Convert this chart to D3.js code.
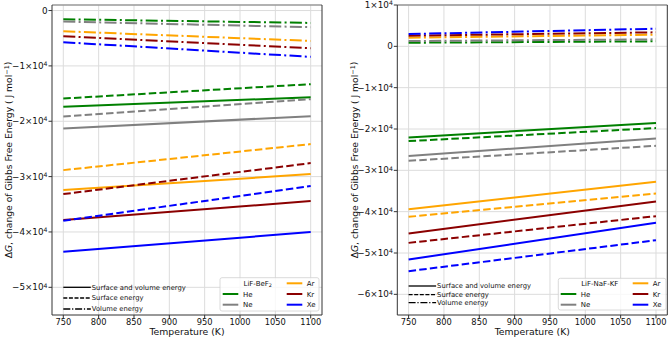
<!DOCTYPE html>
<html>
<head>
<meta charset="utf-8">
<script src="https://cdn.jsdelivr.net/npm/d3@7"></script>
<style>
  body { margin: 0; background: #fff; }
  text { font-family: "DejaVu Sans", sans-serif; fill: #111; }
</style>
</head>
<body>
<svg id="viz"></svg>
<script>
const width = 669, height = 338;

// data (J/mol at 750 K and 1100 K)
const temps = [750, 1100];
const gases = ["He", "Ne", "Ar", "Kr", "Xe"];
const gasColors = ["green", "gray", "orange", "darkred", "blue"];
const xTicks = [750, 800, 850, 900, 950, 1000, 1050, 1100];
const beTicks = [0, -10000, -20000, -30000, -40000, -50000];
const nafTicks = [10000, 0, -10000, -20000, -30000, -40000, -50000, -60000];

// LiF-BeF2
const beTotal   = [[-17400, -15650], [-21300, -19080], [-32440, -29550], [-37850, -34420], [-43570, -40020]];
const beSurface = [[-15890, -13300], [-19150, -16010], [-28830, -24130], [-33160, -27560], [-37970, -31710]];
const beVolume  = [[-1570, -2240], [-1990, -3010], [-3740, -5490], [-4640, -6800], [-5720, -8370]];

// LiF-NaF-KF
const nafTotal   = [[-22030, -18550], [-26560, -22270], [-39390, -32780], [-45270, -37530], [-51570, -42700]];
const nafSurface = [[-22930, -19780], [-27700, -24060], [-41250, -35590], [-47550, -41080], [-54400, -46900]];
const nafVolume  = [[870, 1210], [1280, 1690], [2080, 2810], [2570, 3390], [2980, 4260]];

const styles = [
  {name: "Surface and volume energy", dash: null},
  {name: "Surface energy", dash: "7.5,3.2"},
  {name: "Volume energy", dash: "12,3.3,2,3.3"}
];

const svg = d3.select("#viz").attr("width", width).attr("height", height);

function tickText(sel, v) {
  if (v === 0) { sel.text("0"); return; }
  const m = v / 1e4;
  sel.append("tspan").text((m < 0 ? "\u2212" : "") + Math.abs(m) + "\u00d710");
  sel.append("tspan").attr("font-size", "0.7em").attr("dy", "-0.45em").text("4");
}

function drawPanel(opt) {
  const g = svg.append("g");
  const x = d3.scaleLinear().domain([734, 1116]).range([opt.x0, opt.x1]);
  const y = d3.scaleLinear().domain(opt.yDomain).range([315, 5]);

  // grid
  g.selectAll(".gx").data(xTicks).enter().append("line")
    .attr("x1", d => x(d)).attr("x2", d => x(d))
    .attr("y1", 5).attr("y2", 315)
    .attr("stroke", "#dcdcdc").attr("stroke-width", 1);
  g.selectAll(".gy").data(opt.yTicks).enter().append("line")
    .attr("x1", opt.x0).attr("x2", opt.x1)
    .attr("y1", d => y(d)).attr("y2", d => y(d))
    .attr("stroke", "#dcdcdc").attr("stroke-width", 1);

  // lines
  const line = d3.line().x((d, i) => x(temps[i])).y(d => y(d));
  const sets = [opt.total, opt.surface, opt.volume];
  gases.forEach((gas, gi) => {
    sets.forEach((set, si) => {
      g.append("path")
        .attr("d", line(set[gi]))
        .attr("fill", "none")
        .attr("stroke", gasColors[gi])
        .attr("stroke-width", 2)
        .attr("stroke-dasharray", styles[si].dash);
    });
  });

  // spines
  g.append("line").attr("x1", opt.x0).attr("x2", opt.x1).attr("y1", 5).attr("y2", 5)
    .attr("stroke", "#999").attr("stroke-width", 1.5);
  g.append("line").attr("x1", opt.x0).attr("x2", opt.x1).attr("y1", 315).attr("y2", 315)
    .attr("stroke", "#333").attr("stroke-width", 1);
  g.append("line").attr("x1", opt.x0).attr("x2", opt.x0).attr("y1", 5).attr("y2", 315)
    .attr("stroke", "#333").attr("stroke-width", 1);
  g.append("line").attr("x1", opt.x1).attr("x2", opt.x1).attr("y1", 5).attr("y2", 315)
    .attr("stroke", "#333").attr("stroke-width", 1);

  // x ticks
  xTicks.forEach(t => {
    g.append("line").attr("x1", x(t)).attr("x2", x(t)).attr("y1", 315).attr("y2", 318.5)
      .attr("stroke", "#333");
    g.append("text").attr("x", x(t)).attr("y", 325.3).attr("text-anchor", "middle")
      .attr("font-size", 8.3).text(t);
  });
  // y ticks
  opt.yTicks.forEach(t => {
    g.append("line").attr("x1", opt.x0 - 3.5).attr("x2", opt.x0).attr("y1", y(t)).attr("y2", y(t))
      .attr("stroke", "#333");
    const tx = g.append("text").attr("x", opt.x0 - 4.5).attr("y", y(t) + 3)
      .attr("text-anchor", "end").attr("font-size", 8.8);
    tickText(tx, t);
  });

  // axis labels
  g.append("text").attr("x", (opt.x0 + opt.x1) / 2).attr("y", 335.3)
    .attr("text-anchor", "middle").attr("font-size", 9.3).text("Temperature (K)");
  const yl = g.append("text")
    .attr("transform", `translate(${opt.ylabX},160) rotate(-90)`)
    .attr("text-anchor", "middle").attr("font-size", 9.2);
  yl.append("tspan").text("\u0394");
  yl.append("tspan").attr("font-style", "italic").text("G");
  yl.append("tspan").text(", change of Gibbs Free Energy ( J mol");
  yl.append("tspan").attr("font-size", "0.7em").attr("dy", "-0.45em").text("\u22121");
  yl.append("tspan").attr("dy", "0.3em").text(")");

  // line-style legend
  opt.styleRows.forEach((ry, i) => {
    g.append("line").attr("x1", x(750)).attr("x2", x(750) + 27.5).attr("y1", ry).attr("y2", ry)
      .attr("stroke", "#000").attr("stroke-width", 1.3)
      .attr("stroke-dasharray", styles[i].dash ? (i === 1 ? "4,1.6" : "7,1.8,1.2,1.8") : null);
    g.append("text").attr("x", x(750) + 28.5).attr("y", ry + 2.4)
      .attr("font-size", 6.8).text(styles[i].name);
  });

  // gas legend
  const L = opt.leg;
  g.append("rect").attr("x", L.x).attr("y", L.y).attr("width", L.w).attr("height", L.h)
    .attr("rx", 2).attr("fill", "#fff").attr("fill-opacity", 0.8)
    .attr("stroke", "#d0d0d0").attr("stroke-width", 0.8);
  const rows = [283.3, 294, 304.7];
  const title = g.append("text").attr("x", L.c1t + 0.5).attr("y", rows[0] + 2.4).attr("font-size", 7);
  title.append("tspan").text(opt.title);
  if (opt.titleSub) title.append("tspan").attr("font-size", "0.7em").attr("dy", "0.3em").text(opt.titleSub);
  const slots = [[0, 1], [0, 2], [1, 0], [1, 1], [1, 2]];
  gases.forEach((gas, gi) => {
    const [c, r] = slots[gi];
    const hx = c === 0 ? L.c1h : L.c2h;
    const tx = c === 0 ? L.c1t : L.c2t;
    g.append("line").attr("x1", hx).attr("x2", hx + 15.6).attr("y1", rows[r]).attr("y2", rows[r])
      .attr("stroke", gasColors[gi]).attr("stroke-width", 2);
    g.append("text").attr("x", tx).attr("y", rows[r] + 2.5).attr("font-size", 7).text(gas);
  });
}

drawPanel({
  x0: 52, x1: 322, yDomain: [-55000, 1000], yTicks: beTicks, ylabX: 11.5,
  total: beTotal, surface: beSurface, volume: beVolume,
  styleRows: [287.3, 298, 309],
  title: "LiF-BeF", titleSub: "2",
  leg: {x: 220, y: 277.7, w: 99, h: 33.3, c1h: 222.7, c1t: 243, c2h: 286.7, c2t: 306.7}
});

drawPanel({
  x0: 397.3, x1: 667.3, yDomain: [-65000, 10000], yTicks: nafTicks, ylabX: 357.5,
  total: nafTotal, surface: nafSurface, volume: nafVolume,
  styleRows: [286, 294.7, 302.7],
  title: "LiF-NaF-KF", titleSub: null,
  leg: {x: 558.3, y: 278.3, w: 107.7, h: 31.7, c1h: 560.7, c1t: 580.7, c2h: 632.7, c2t: 652.7}
});
</script>
</body>
</html>
